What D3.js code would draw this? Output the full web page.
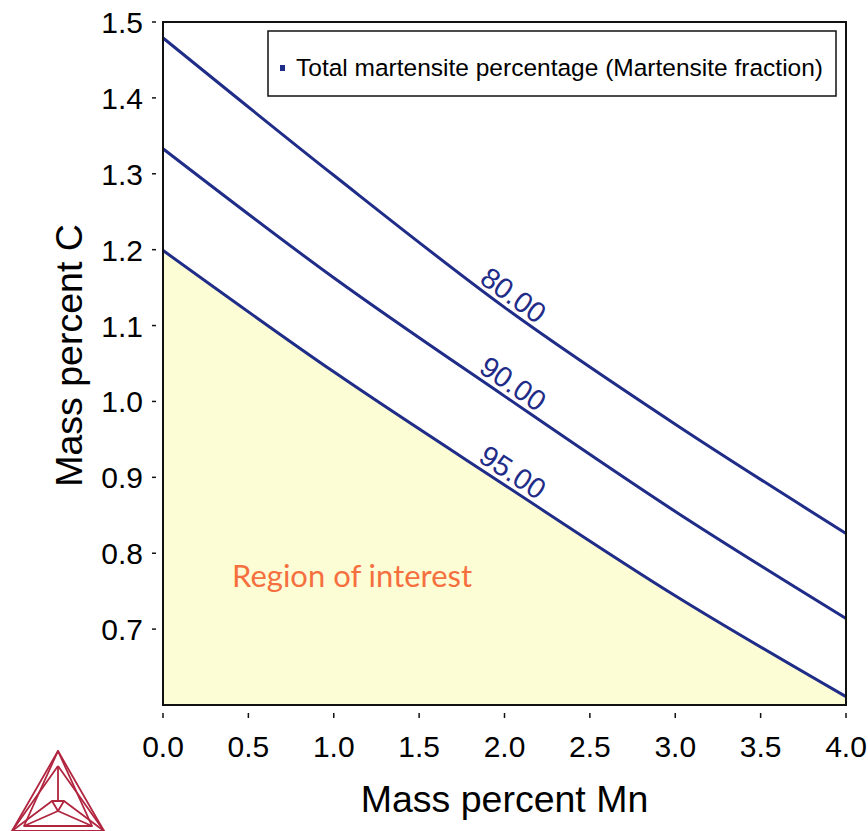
<!DOCTYPE html>
<html>
<head>
<meta charset="utf-8">
<script src="https://cdn.jsdelivr.net/npm/d3@7"></script>
<style>
  body { margin: 0; background: #fff; }
  svg { display: block; }
</style>
</head>
<body>
<script>
// contour data (Mn mass %, C mass %)
var mnValues = [0, 1, 2, 3, 4]
var c80 = [1.479, 1.298, 1.124, 0.970, 0.826]
var c90 = [1.333, 1.163, 1.007, 0.855, 0.714]
var c95 = [1.199, 1.039, 0.890, 0.744, 0.611]
var contourNames = ['80.00', '90.00', '95.00']
var labelAt = [2.0, 2.0, 2.0]
var xTicks = [0, 0.5, 1, 1.5, 2, 2.5, 3, 3.5, 4]
var yTicks = [0.7, 0.8, 0.9, 1.0, 1.1, 1.2, 1.3, 1.4, 1.5]

var width = 868, height = 831
var pLeft = 163, pRight = 846, pTop = 22, pBottom = 705
var navy = '#1f2c88'
var font = 'Liberation Sans, Arial, sans-serif'

var svg = d3.select('body').append('svg')
  .attr('width', width)
  .attr('height', height)

var x = d3.scaleLinear().domain([0, 4]).range([pLeft, pRight])
var y = d3.scaleLinear().domain([0.6, 1.5]).range([pBottom, pTop])

var series = [c80, c90, c95].map(function(vals) {
  return mnValues.map(function(m, i) { return {x: m, y: vals[i]} })
})

// region of interest, under the 95% line
var area = d3.area()
  .x(d => x(d.x))
  .y0(y(0.6))
  .y1(d => y(d.y))
  .curve(d3.curveMonotoneX)

svg.append('path')
  .attr('d', area(series[2]))
  .attr('fill', '#fdfdd5')

svg.append('text')
  .attr('x', 232)
  .attr('y', 587)
  .attr('font-family', 'Lato, sans-serif')
  .attr('font-size', 31)
  .attr('fill', '#f5703e')
  .text('Region of interest')

var line = d3.line()
  .x(d => x(d.x))
  .y(d => y(d.y))
  .curve(d3.curveMonotoneX)

var lines = svg.append('g')
lines.selectAll('path')
  .data(series)
  .enter()
  .append('path')
  .attr('d', line)
  .attr('fill', 'none')
  .attr('stroke', navy)
  .attr('stroke-width', 3)

// contour labels, rotated along the line
series.forEach(function(s, i) {
  var mx = labelAt[i]
  var k = mnValues.indexOf(mx)
  var px = x(mx), py = y(s[k].y)
  var ang = Math.atan2(y(s[k + 1].y) - y(s[k - 1].y), x(s[k + 1].x) - x(s[k - 1].x)) * 180 / Math.PI
  svg.append('text')
    .attr('transform', 'translate(' + px + ',' + py + ') rotate(' + ang + ')')
    .attr('text-anchor', 'middle')
    .attr('y', -5)
    .attr('font-family', font)
    .attr('font-size', 29)
    .attr('fill', navy)
    .text(contourNames[i])
})

// frame
svg.append('rect')
  .attr('x', pLeft).attr('y', pTop)
  .attr('width', pRight - pLeft).attr('height', pBottom - pTop)
  .attr('fill', 'none')
  .attr('stroke', '#111')
  .attr('stroke-width', 2)

// ticks and labels
var xg = svg.append('g')
xg.selectAll('line').data(xTicks).enter().append('line')
  .attr('x1', d => x(d)).attr('x2', d => x(d))
  .attr('y1', 713).attr('y2', 718)
  .attr('stroke', '#111').attr('stroke-width', 1.5)
xg.selectAll('text').data(xTicks).enter().append('text')
  .attr('x', d => x(d))
  .attr('y', 757)
  .attr('text-anchor', 'middle')
  .attr('font-family', font)
  .attr('font-size', 30)
  .text(d => d3.format('.1f')(d))

var yg = svg.append('g')
yg.selectAll('line').data(yTicks).enter().append('line')
  .attr('x1', 152).attr('x2', 156)
  .attr('y1', d => y(d)).attr('y2', d => y(d))
  .attr('stroke', '#111').attr('stroke-width', 1.5)
yg.selectAll('text').data(yTicks).enter().append('text')
  .attr('x', 143)
  .attr('y', d => y(d) + 11)
  .attr('text-anchor', 'end')
  .attr('font-family', font)
  .attr('font-size', 30)
  .text(d => d3.format('.1f')(d))

svg.append('text')
  .attr('x', (pLeft + pRight) / 2)
  .attr('y', 812)
  .attr('text-anchor', 'middle')
  .attr('font-family', font)
  .attr('font-size', 37.5)
  .text('Mass percent Mn')

svg.append('text')
  .attr('transform', 'translate(82,' + ((pTop + pBottom) / 2 - 8) + ') rotate(-90)')
  .attr('text-anchor', 'middle')
  .attr('font-family', font)
  .attr('font-size', 37.5)
  .text('Mass percent C')

// legend
svg.append('rect')
  .attr('x', 268).attr('y', 31)
  .attr('width', 568).attr('height', 65)
  .attr('fill', '#fff')
  .attr('stroke', '#111')
  .attr('stroke-width', 1.5)
svg.append('rect')
  .attr('x', 280).attr('y', 65)
  .attr('width', 5).attr('height', 6)
  .attr('fill', navy)
svg.append('text')
  .attr('x', 296)
  .attr('y', 76)
  .attr('font-family', font)
  .attr('font-size', 24.5)
  .text('Total martensite percentage (Martensite fraction)')

// logo
var logo = svg.append('g')
  .attr('fill', 'none')
  .attr('stroke', '#b1253f')
  .attr('stroke-width', 1.8)
  .attr('stroke-linejoin', 'round')
var top1 = [58, 751], bl = [12, 831], br = [104, 831]
var top2 = [58, 766], bl2 = [24, 826], br2 = [92, 826]
logo.append('path').attr('d', 'M' + top1 + 'L' + bl + 'L' + br + 'Z')
logo.append('path').attr('d', 'M' + top1 + 'L' + bl2 + 'L' + br2 + 'Z')
logo.append('path').attr('d', 'M' + top2 + 'L' + bl + 'M' + top2 + 'L' + br)
logo.append('path').attr('d', 'M52,801L64,801L58,811Z')
logo.append('path').attr('d', 'M' + top2 + 'L58,801M52,801L' + bl + 'M64,801L' + br + 'M58,811L' + bl2 + 'M58,811L' + br2)
</script>
</body>
</html>
